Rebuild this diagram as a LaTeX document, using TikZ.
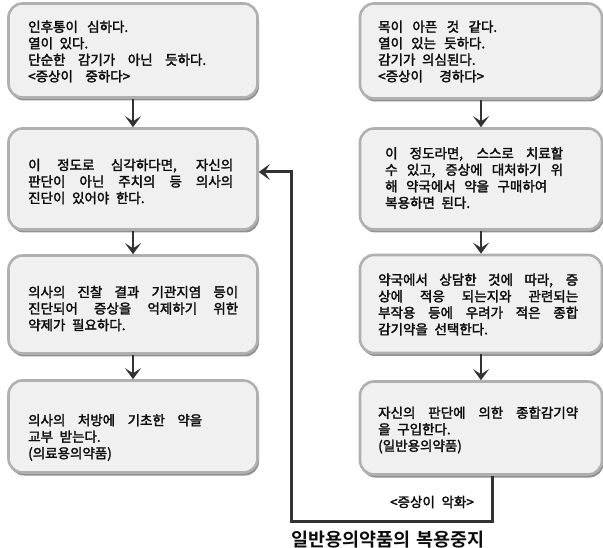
\documentclass[tikz,border=0pt]{standalone}
\usepackage{fontspec}
\newfontfamily\kr{Noto Sans CJK KR}[WordSpace=2.2, FakeBold=2.2]
\newfontfamily\krb{Noto Sans CJK KR Bold}[WordSpace=1.6]
\usetikzlibrary{shadows,arrows.meta}
\newcommand\Jl[2]{\makebox[#1pt][s]{#2}}
\tikzset{
  box/.style={rounded corners=14pt, fill=gray!12, draw=gray!62, line width=2.6pt,
    drop shadow={shadow xshift=1.5pt, shadow yshift=-3pt, opacity=.6, fill=gray!55!black}},
  txt/.style={anchor=west, align=left, inner sep=0pt, text=black!95,
    font=\kr\fontsize{13.5}{16.5}\selectfont},
  arr/.style={draw=gray!40!black, line width=2.8pt,
    -{Stealth[length=11pt,width=16pt,inset=5pt]}},
  looparr/.style={draw=gray!40!black, line width=3pt,
    -{Stealth[length=11pt,width=16pt,inset=5pt]}},
  lbl/.style={inner sep=0pt, text=black!95, font=\kr\fontsize{13.5}{15}\selectfont},
  ttl/.style={inner sep=0pt, text=black!95, font=\krb\fontsize{18.5}{20}\selectfont},
}
\begin{document}
\begin{tikzpicture}[x=1pt,y=-1pt]
\useasboundingbox (0,0) rectangle (603,548);
\fill[white] (0,0) rectangle (603,548);
% boxes
\node[box, minimum width=249pt, minimum height=94pt] (L1) at (133,50.5) {};
\node[box, minimum width=242pt, minimum height=95pt] (R1) at (481,51) {};
\node[box, minimum width=249pt, minimum height=101pt] (L2) at (133,179) {};
\node[box, minimum width=242pt, minimum height=101pt] (R2) at (481,179) {};
\node[box, minimum width=249pt, minimum height=98pt] (L3) at (133,304.5) {};
\node[box, minimum width=242pt, minimum height=98pt] (R3) at (481,304) {};
\node[box, minimum width=249pt, minimum height=92pt] (L4) at (133,426.5) {};
\node[box, minimum width=242pt, minimum height=93pt] (R4) at (481,428) {};
% texts
\node[txt] (L1t) at (28,51.5) {\Jl{100}{인후통이 심하다.}\\ \Jl{60}{열이 있다.}\\ \Jl{178}{단순한 감기가 아닌 듯하다.}\\ \Jl{102}{<증상이 중하다>}};
\node[txt] (R1t) at (378,51.5) {\Jl{119}{목이 아픈 것 같다.}\\ \Jl{107}{열이 있는 듯하다.}\\ 감기가 의심된다.\\ \Jl{106}{<증상이 경하다>}};
\node[txt] (L2t) at (28,181.5) {\Jl{205}{이 정도로 심각하다면, 자신의}\\ \Jl{205}{판단이 아닌 주치의 등 의사의}\\ 진단이 있어야 한다.};
\node[txt] (R2t) at (385,178) {\Jl{178}{이 정도라면, 스스로 치료할}\\ \Jl{178}{수 있고, 증상에 대처하기 위}\\ \Jl{162}{해 약국에서 약을 구매하여}\\ 복용하면 된다.};
\node[txt] (L3t) at (28,308.5) {\Jl{210}{의사의 진찰 결과 기관지염 등이}\\ \Jl{210}{진단되어 증상을 억제하기 위한}\\ 약제가 필요하다.};
\node[txt] (R3t) at (378,304.5) {\Jl{200}{약국에서 상담한 것에 따라, 증}\\ \Jl{200}{상에 적응 되는지와 관련되는}\\ \Jl{200}{부작용 등에 우려가 적은 종합}\\ 감기약을 선택한다.};
\node[txt] (L4t) at (28,437.5) {\Jl{174}{의사의 처방에 기초한 약을}\\ 교부 받는다.\\ (의료용의약품)};
\node[txt] (R4t) at (378,430) {\Jl{200}{자신의 판단에 의한 종합감기약}\\ 을 구입한다.\\ (일반용의약품)};
% arrows
\draw[arr] (L1) -- (L2);
\draw[arr] (L2) -- (L3);
\draw[arr] (L3) -- (L4);
\draw[arr] (R1) -- (R2);
\draw[arr] (R2) -- (R3);
\draw[arr] (R3) -- (R4);
% loop back
\coordinate (lb) at (291,521);
\draw[looparr] ([xshift=11pt]R4.south) |- (lb) |- ([yshift=7pt]L2.east);
\node[lbl] (worse) at (432,502) {<증상이 악화>};
\node[ttl] (title) at (388,540) {일반용의약품의 복용중지};
\end{tikzpicture}
\end{document}
